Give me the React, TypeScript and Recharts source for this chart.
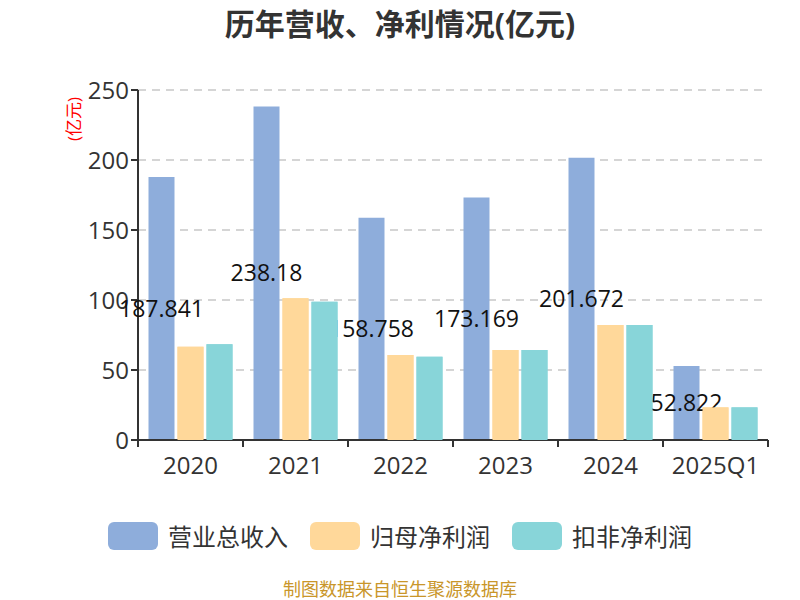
import { BarChart, Bar, XAxis, YAxis, CartesianGrid, LabelList } from 'recharts';

const FONT = "'Open Sans', 'Noto Sans CJK SC', sans-serif";

// 报告期
const periods = ['2020', '2021', '2022', '2023', '2024', '2025Q1'];
// 营业总收入(亿元)
const revenue = [187.841, 238.18, 158.758, 173.169, 201.672, 52.822];
// 归母净利润(亿元)
const netProfit = [66.6, 101.2, 60.7, 64.3, 82.1, 23.3];
// 扣非净利润(亿元)
const deductedProfit = [68.4, 98.8, 59.5, 64.3, 82.1, 23.3];
const yTicks = [0, 50, 100, 150, 200, 250];

const seriesNames = ['营业总收入', '归母净利润', '扣非净利润'];
const seriesColors = ['#8eaddb', '#ffd89a', '#88d5d9'];

const data = periods.map((p, i) => ({
  period: p,
  revenue: revenue[i],
  netProfit: netProfit[i],
  deductedProfit: deductedProfit[i],
}));

const chartMargin = { top: 90, right: 32, bottom: 120, left: 78 };

// ticks sit on the category boundaries, not the centres
function CategoryTick(props: any) {
  const { x, y, payload, index } = props;
  const half = payload.offset ?? 0;
  return (
    <g>
      <line x1={x - half} y1={y - 8} x2={x - half} y2={y - 1} stroke="#333" strokeWidth={2} />
      {index === periods.length - 1 && (
        <line x1={x + half} y1={y - 8} x2={x + half} y2={y - 1} stroke="#333" strokeWidth={2} />
      )}
      <text x={x} y={y + 26} textAnchor="middle" fill="#333" fontSize={24} fontFamily={FONT}>
        {payload.value}
      </text>
    </g>
  );
}

export default function App() {
  return (
    <div style={{ position: 'absolute', left: 0, top: 0, width: 800, height: 600, background: '#fff', overflow: 'hidden' }}>
      <div
        style={{
          position: 'absolute', top: 0, width: 800, textAlign: 'center',
          fontFamily: FONT, fontWeight: 'bold', fontSize: 30, color: '#333',
        }}
      >
        历年营收、净利情况(亿元)
      </div>
      <div style={{ position: 'absolute', left: 0, top: 0 }}>
        <BarChart width={800} height={600} data={data} margin={chartMargin} barCategoryGap="10%" barGap={3}>
          <CartesianGrid vertical={false} stroke="#c8c8c8" strokeDasharray="8 6" strokeWidth={1.5} />
          <XAxis
            dataKey="period"
            height={40}
            tickLine={false}
            axisLine={{ stroke: '#333', strokeWidth: 2 }}
            tick={<CategoryTick />}
            interval={0}
          />
          <YAxis
            width={60}
            domain={[0, 250]}
            ticks={yTicks}
            interval={0}
            axisLine={{ stroke: '#333', strokeWidth: 2 }}
            tickLine={{ stroke: '#333', strokeWidth: 2 }}
            tickSize={7}
            tick={{ fill: '#333', fontSize: 24, fontFamily: FONT }}
            label={{
              value: '(亿元)', angle: -90, position: 'insideTopLeft', dx: -15, dy: 46,
              fill: '#ff0000', fontSize: 17, fontFamily: FONT,
            }}
          />
          <Bar dataKey="revenue" name={seriesNames[0]} fill={seriesColors[0]} isAnimationActive={false}>
            <LabelList dataKey="revenue" position="center" fill="#111" fontSize={23} fontFamily={FONT} />
          </Bar>
          <Bar dataKey="netProfit" name={seriesNames[1]} fill={seriesColors[1]} isAnimationActive={false} />
          <Bar dataKey="deductedProfit" name={seriesNames[2]} fill={seriesColors[2]} isAnimationActive={false} />
        </BarChart>
      </div>
      {/* same layout again so the profit bars lie over the revenue labels */}
      <div style={{ position: 'absolute', left: 0, top: 0, pointerEvents: 'none' }}>
        <BarChart width={800} height={600} data={data} margin={chartMargin} barCategoryGap="10%" barGap={3}>
          <XAxis dataKey="period" height={40} tick={false} tickLine={false} axisLine={false} />
          <YAxis width={60} domain={[0, 250]} ticks={yTicks} tick={false} tickLine={false} axisLine={false} />
          <Bar dataKey="revenue" fill="transparent" isAnimationActive={false} />
          <Bar dataKey="netProfit" fill={seriesColors[1]} isAnimationActive={false} />
          <Bar dataKey="deductedProfit" fill={seriesColors[2]} isAnimationActive={false} />
        </BarChart>
      </div>
      <div
        style={{
          position: 'absolute', top: 518, width: 800, display: 'flex', justifyContent: 'center',
          gap: 22, fontFamily: FONT,
        }}
      >
        {seriesNames.map((name, i) => (
          <div key={name} style={{ display: 'flex', alignItems: 'center' }}>
            <div style={{ width: 50, height: 28, borderRadius: 6, background: seriesColors[i], marginRight: 10 }} />
            <span style={{ fontSize: 24, color: '#333' }}>{name}</span>
          </div>
        ))}
      </div>
      <div
        style={{
          position: 'absolute', top: 579, width: 800, textAlign: 'center', lineHeight: '20px',
          fontFamily: FONT, fontSize: 18, color: '#c9962a',
        }}
      >
        制图数据来自恒生聚源数据库
      </div>
    </div>
  );
}
